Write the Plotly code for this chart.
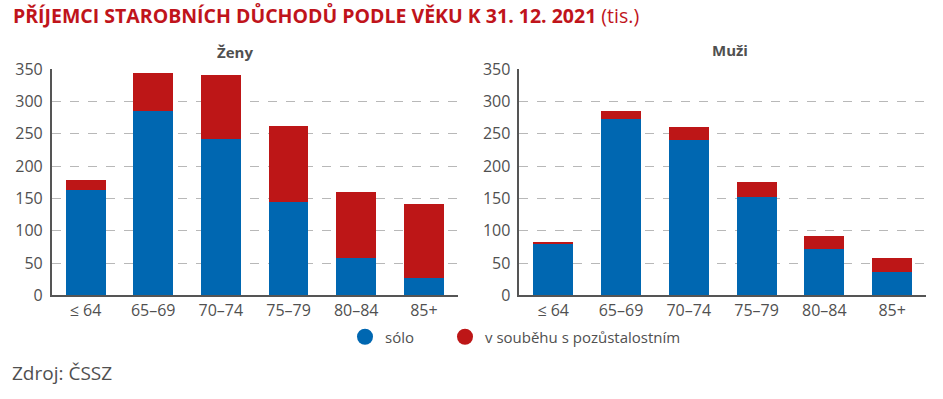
import plotly.graph_objects as go

categories = ["≤ 64", "65–69", "70–74", "75–79", "80–84", "85+"]
zeny_solo = [163, 285, 242, 145, 58, 27]
zeny_soubeh = [15, 59, 99, 117, 102, 114]
muzi_solo = [79, 273, 241, 152, 72, 36]
muzi_soubeh = [3, 12, 20, 23, 20, 22]
y_ticks = [0, 50, 100, 150, 200, 250, 300, 350]

BLUE = "#0067b1"
RED = "#bd1617"
TXT = "#505050"
FONT = "Open Sans, sans-serif"

W, H = 943, 399

fig = go.Figure()
for sol, sou, xa, ya in [(zeny_solo, zeny_soubeh, "x", "y"), (muzi_solo, muzi_soubeh, "x2", "y2")]:
    fig.add_trace(go.Bar(x=categories, y=sol, marker=dict(color=BLUE, line=dict(width=0)),
                         xaxis=xa, yaxis=ya, showlegend=False, hoverinfo="y"))
    fig.add_trace(go.Bar(x=categories, y=sou, marker=dict(color=RED, line=dict(width=0)),
                         xaxis=xa, yaxis=ya, showlegend=False, hoverinfo="y"))

# legend entries as circles (one legend each, to control spacing)
fig.add_trace(go.Scatter(x=[None], y=[None], mode="markers", name="sólo", legend="legend",
                         marker=dict(symbol="circle", size=21, color=BLUE)))
fig.add_trace(go.Scatter(x=[None], y=[None], mode="markers", name="v souběhu s pozůstalostním",
                         legend="legend2", marker=dict(symbol="circle", size=21, color=RED)))

def px_x(p):
    return p / W

def px_y(p):
    return 1 - p / H

ydom = [px_y(295.3), px_y(69.3)]
common_y = dict(range=[0, 350], tickvals=y_ticks, showgrid=True, gridcolor="#b8b8b8",
                griddash="dash", gridwidth=1, showline=True, linecolor="#555555", linewidth=1.5,
                ticks="", ticklabelstandoff=4, zeroline=False, automargin=False,
                tickfont=dict(family=FONT, size=16, color=TXT), fixedrange=True)
common_x = dict(showline=True, linecolor="#555555", linewidth=1.5, ticks="", showgrid=False,
                tickfont=dict(family=FONT, size=16, color=TXT), ticklabelstandoff=0,
                automargin=False, fixedrange=True)

leg_common = dict(orientation="h", xanchor="left", y=px_y(337), yanchor="middle",
                  font=dict(family=FONT, size=15, color=TXT), itemsizing="trace",
                  bgcolor="rgba(0,0,0,0)")

fig.update_layout(
    width=W, height=H,
    margin=dict(l=0, r=0, t=0, b=0, autoexpand=False),
    paper_bgcolor="white", plot_bgcolor="white",
    barmode="stack", bargap=0.41,
    xaxis=dict(domain=[px_x(51.7), px_x(457.7)], anchor="y", **common_x),
    yaxis=dict(domain=ydom, anchor="x", **common_y),
    xaxis2=dict(domain=[px_x(519.3), px_x(926)], anchor="y2", **common_x),
    yaxis2=dict(domain=ydom, anchor="x2", **common_y),
    showlegend=True,
    legend=dict(x=px_x(345), **leg_common),
    legend2=dict(x=px_x(445), **leg_common),
    font=dict(family=FONT, color=TXT),
)

fig.add_annotation(xref="paper", yref="paper", x=px_x(11), y=px_y(15), xanchor="left", yanchor="middle",
                   text="<b>PŘÍJEMCI STAROBNÍCH DŮCHODŮ PODLE VĚKU K 31. 12. 2021</b> (tis.)",
                   showarrow=False, font=dict(family=FONT, size=19.5, color="#c0141b"))
fig.add_annotation(xref="paper", yref="paper", x=px_x(235), y=px_y(52), xanchor="center", yanchor="middle",
                   text="<b>Ženy</b>", showarrow=False, font=dict(family=FONT, size=15, color=TXT))
fig.add_annotation(xref="paper", yref="paper", x=px_x(729.5), y=px_y(50), xanchor="center", yanchor="middle",
                   text="<b>Muži</b>", showarrow=False, font=dict(family=FONT, size=15, color=TXT))
fig.add_annotation(xref="paper", yref="paper", x=px_x(10), y=px_y(373), xanchor="left", yanchor="middle",
                   text="Zdroj: ČSSZ", showarrow=False, font=dict(family=FONT, size=19, color=TXT))

fig.write_html("out.html", config={"displayModeBar": False},
               post_script="document.body.style.margin='0';document.body.style.overflow='hidden';")
